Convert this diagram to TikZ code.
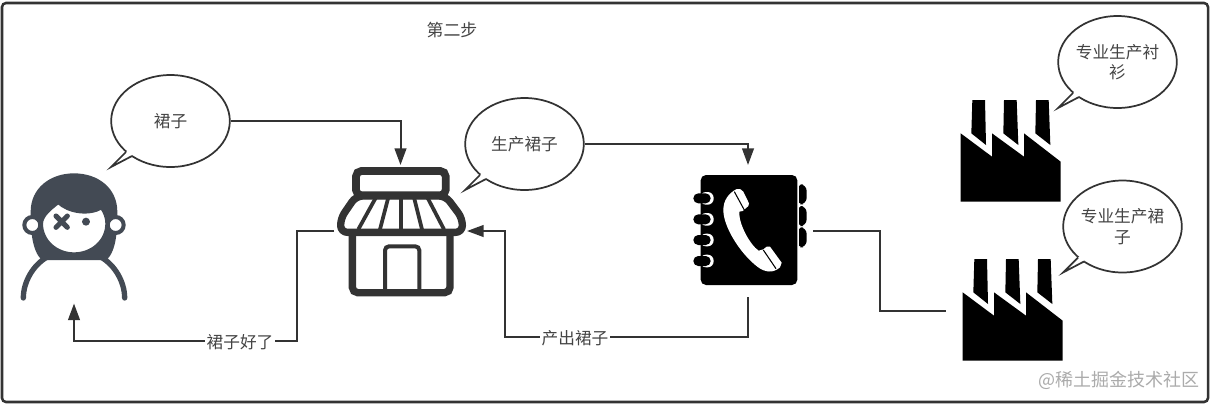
\documentclass[tikz,border=0pt]{standalone}
\usepackage{fontspec}
\setmainfont{Noto Sans CJK SC}
\usetikzlibrary{arrows.meta, shapes.geometric}

\definecolor{linegray}{HTML}{333333}
\definecolor{textgray}{HTML}{444444}
\definecolor{persongray}{HTML}{434A54}
\definecolor{markgray}{HTML}{ABABAB}

\tikzset{
  link/.style={draw=linegray, line width=1.5pt},
  linkarrow/.style={link, -{Triangle[length=12.5pt,width=8.8pt]}},
  bubble/.style={ellipse, draw=linegray, line width=1.3pt, fill=white, inner sep=0pt,
    minimum width=89pt, minimum height=69pt, align=center, text=textgray,
    font=\fontsize{12.5}{15.5}\selectfont},
  linklabel/.style={fill=white, text=textgray, inner sep=1.5pt, font=\fontsize{12.5}{15}\selectfont},
  iconbox/.style={inner sep=0pt, outer sep=0pt, minimum width=#1*0.75pt, minimum height=99pt},
}
\newcommand{\bubbletail}[1]{
  \fill[white] ([shift={(-44.5,31)}]#1.center) -- ([shift={(-59.5,46)}]#1.center)
    -- ([shift={(-38.5,35)}]#1.center) -- ([shift={(-38,27)}]#1.center) -- cycle;
  \draw[linegray, line width=1.3pt, line join=miter]
    ([shift={(-44.5,31)}]#1.center) -- ([shift={(-59.5,46)}]#1.center) -- ([shift={(-38.5,35)}]#1.center);
}

\begin{document}
\begin{tikzpicture}[x=0.75pt, y=-0.75pt]
  \useasboundingbox[fill=white] (0,0) rectangle (1213,405);
  \draw[linegray, line width=1.9pt, rounded corners=3pt] (2,3) rectangle (1208,402);

  %--- Person ---
  \begin{scope}[shift={(0,60)},scale=1/3]
    % hair
    \fill[persongray] (222,340) .. controls (150,340) and (92,385) .. (92,455)
      .. controls (92,510) and (95,570) .. (125,600) -- (320,600)
      .. controls (350,570) and (352,510) .. (352,455)
      .. controls (352,385) and (295,340) .. (222,340) -- cycle;
    % ears
    \draw[persongray, line width=3pt, fill=white] (97,495) circle (24);
    \draw[persongray, line width=3pt, fill=white] (347,495) circle (24);
    % face
    \draw[persongray, line width=3pt, fill=white] (123,490) .. controls (125,465) and (150,445) .. (175,426)
      .. controls (205,455) and (265,465) .. (305,442)
      .. controls (315,455) and (322,472) .. (322,490)
      .. controls (322,545) and (275,583) .. (222,583)
      .. controls (170,583) and (123,545) .. (123,490) -- cycle;
    % eyes
    \draw[persongray, line width=3.8pt, line cap=round] (168,468) -- (202,502) (202,468) -- (168,502);
    \fill[persongray] (258,485) circle (12);
    % shoulders
    \draw[persongray, line width=4pt, line cap=round]
      (70,714) .. controls (70,665) and (100,615) .. (140,592);
    \draw[persongray, line width=4pt, line cap=round]
      (374,714) .. controls (374,665) and (344,615) .. (304,592);
  \end{scope}
  \node[iconbox=110] (person) at (74,237.5) {};

  %--- Shop ---
  \begin{scope}[shift={(320,90)},scale=1/3]
    % awning
    \draw[linegray, line width=5.5pt, fill=white, rounded corners=5pt, line join=round]
      (108,318) -- (62,385) -- (62,427) -- (427,427) -- (427,385) -- (377,318) -- cycle;
    \draw[linegray, line width=2.8pt]
      (168,322) -- (115,418) (205,322) -- (180,418) (243,322) -- (243,418)
      (282,322) -- (306,418) (322,322) -- (372,418);
    % sign
    \draw[linegray, line width=5.8pt, fill=white, rounded corners=4pt] (108,243) rectangle (377,316);
    % walls
    \draw[linegray, line width=5.5pt, rounded corners=4pt] (97,432) -- (97,608) -- (390,608) -- (390,432);
    % door
    \draw[linegray, line width=3pt, rounded corners=3pt] (195,606) -- (195,469) -- (298,469) -- (298,606);
  \end{scope}
  \node[iconbox=133] (shop) at (400.5,231) {};

  %--- Phone book ---
  \begin{scope}[shift={(670,130)},scale=1/3]
    % side tabs
    \foreach \ty in {163,228,292}
      \fill[black, rounded corners=5pt] (380,\ty) -- (410,\ty) -- (410,\ty+60) -- (380,\ty+60) -- cycle;
    \fill[white] (382,150) rectangle (388,370);
    \fill[black, rounded corners=4pt] (92,135) rectangle (382,465);
    % rings
    \foreach \ry in {205,268,330,393} {
      \fill[white, rounded corners=4.5pt] (90,\ry-19) rectangle (131,\ry+19);
      \fill[black, rounded corners=3.7pt] (70,\ry-15) rectangle (122,\ry+15);
    }
    % handset
    \fill[white] (200,177) .. controls (208,175) and (215,178) .. (220,185)
      -- (237,220) -- (235,228) -- (218,243) -- (208,245)
      .. controls (205,280) and (240,345) .. (266,362)
      -- (280,358) -- (290,350) -- (300,350) -- (335,398) -- (330,412)
      .. controls (310,430) and (285,428) .. (262,410)
      .. controls (210,370) and (160,290) .. (160,240)
      .. controls (160,212) and (175,190) .. (200,177) -- cycle;
    \draw[black, line width=0.8pt] (193,185) -- (224,242) (280,360) -- (318,416);
  \end{scope}
  \node[iconbox=130] (phone) at (748,231) {};

  %--- Factories ---
  \foreach \fx/\fy in {930/20, 932/179} {
    \begin{scope}[shift={(\fx,\fy)},scale=1/3]
      \fill[black] (127,240) -- (165,240) -- (168,375) -- (124,340) -- cycle;
      \fill[black] (222,240) -- (260,240) -- (265,375) -- (220,340) -- cycle;
      \fill[black] (318,240) -- (356,240) -- (361,375) -- (316,340) -- cycle;
      \fill[black] (92,340) -- (186,410) -- (186,340) -- (282,410) -- (282,340)
        -- (392,425) -- (392,545) -- (92,545) -- cycle;
    \end{scope}
  }
  \node[iconbox=132] (factoryA) at (1010,151) {};
  \node[iconbox=132] (factoryB) at (1012,311) {};

  %--- Bubbles ---
  \node[bubble] (bubbleSkirt) at (170.5,121) {裙子};
  \node[bubble] (bubbleMake) at (524.5,144) {生产裙子};
  \node[bubble] (bubbleShirt) at (1117.5,62) {专业生产衬\\衫};
  \node[bubble] (bubbleDress) at (1122.5,226.5) {专业生产裙\\子};
  \bubbletail{bubbleSkirt}
  \bubbletail{bubbleMake}
  \bubbletail{bubbleShirt}
  \bubbletail{bubbleDress}

  %--- Connectors ---
  \coordinate (turnDone) at (297,341);
  \coordinate (turnOut) at (505,337);
  \coordinate (turnCall) at (880,270);
  \draw[linkarrow] (bubbleSkirt.east) -| (shop.north);
  \draw[linkarrow] (bubbleMake.east) -| (phone.north);
  \draw[linkarrow] (shop.west) -| (turnDone) -| (person.south);
  \draw[linkarrow] (phone.south) |- (turnOut) |- (shop.east);
  \draw[link] (phone.east) -| (turnCall) |- (factoryB.west);

  %--- Texts ---
  \node[linklabel] (labelDone) at (240,342) {裙子好了};
  \node[linklabel] (labelOut) at (575,338) {产出裙子};
  \node[text=textgray, font=\fontsize{12.7}{15}\selectfont] (title) at (452,30) {第二步};
  \node[text=markgray, font=\fontsize{13.5}{15}\selectfont] (watermark) at (1119,380) {@稀土掘金技术社区};
\end{tikzpicture}
\end{document}
